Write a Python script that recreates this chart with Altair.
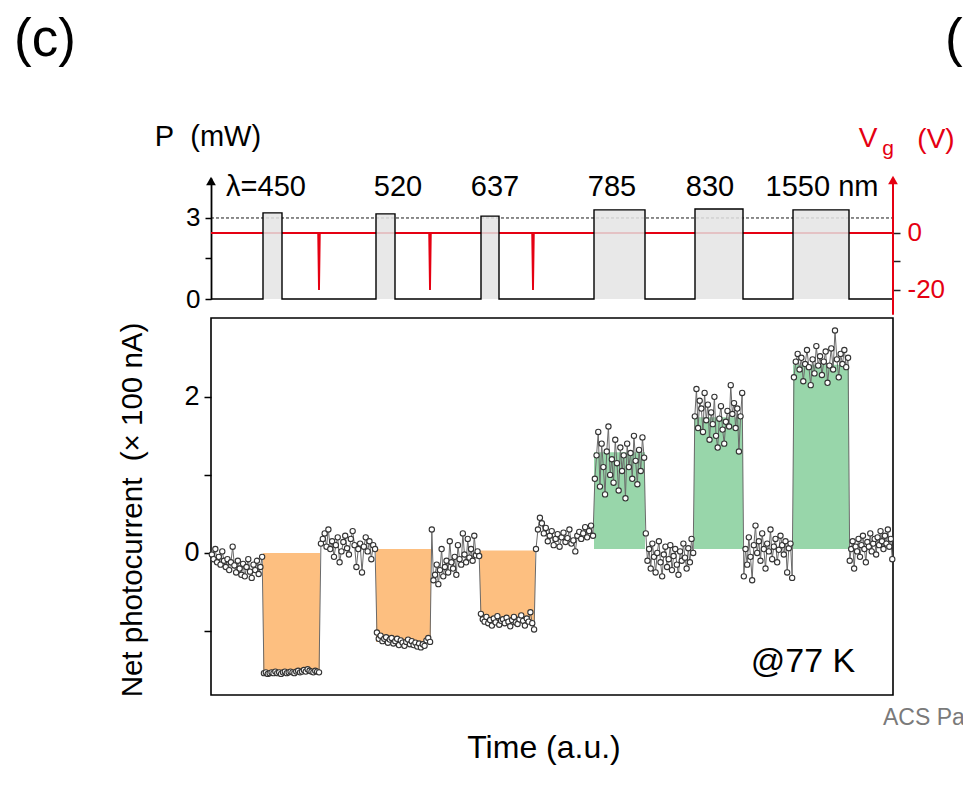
import altair as alt
import pandas as pd

FONT = "Liberation Sans"
RED = "#e50012"
ORANGE = "#fdbf80"
GREEN = "#98d6aa"
T_END = 682
NB = "\u00a0"

# ---------------- top panel: incident light power and gate pulses ----------------
pulse_start = [52, 165, 270, 383, 484, 582]
pulse_end = [71, 184, 288, 434, 532, 638]
pulse_power = [3.19, 3.15, 3.07, 3.30, 3.33, 3.30]          # mW
wl_labels = ["λ=450", "520", "637", "785", "830", "1550 nm"]
wl_label_t = [55, 187, 284, 401, 499, 611]
gate_spike_t = [108, 219, 322]
gate_spike_v = [-20, -20, -20]                                # V
P_DOMAIN = [0, 4.48]
VG_DOMAIN = [-23.2, 19.3]

# ---------------- bottom panel: net photocurrent (x100 nA) ----------------
seg_edges = [0, 52, 109, 165, 220, 269, 324, 383, 434, 483, 532, 582, 638, 682]
off0 = [-0.02, -0.08, 0.05, -0.12, -0.05, -0.15, 0.02, -0.10, -0.18, -0.08, -0.22, -0.12, 0.08, -0.16, -0.25,
        -0.10, -0.20, -0.28, -0.14, -0.30, -0.18, -0.08, -0.24, -0.32, -0.15, -0.22, -0.10, -0.27, -0.18, -0.05]
on450 = [-1.54, -1.53, -1.55, -1.54, -1.53, -1.54, -1.52, -1.54, -1.53, -1.55, -1.53, -1.52, -1.54, -1.53, -1.52,
         -1.53, -1.54, -1.52, -1.51, -1.53, -1.52, -1.50, -1.52, -1.49, -1.51, -1.52, -1.53, -1.51, -1.52, -1.53]
off1 = [0.12, 0.18, 0.25, 0.08, 0.30, 0.05, 0.15, -0.05, 0.10, 0.20, -0.12, 0.02, 0.14, 0.22, 0.06,
        -0.02, 0.18, 0.28, 0.10, -0.18, 0.05, 0.12, -0.25, 0.08, 0.20, 0.02, 0.15, -0.08, 0.10, 0.05]
on520 = [-1.02, -1.10, -1.06, -1.13, -1.10, -1.08, -1.15, -1.11, -1.09, -1.16, -1.13, -1.10, -1.18, -1.12, -1.15,
         -1.19, -1.14, -1.11, -1.17, -1.13, -1.18, -1.15, -1.20, -1.16, -1.21, -1.17, -1.19, -1.12, -1.09, -1.14]
off2 = [0.30, -0.35, -0.28, -0.15, -0.40, -0.22, 0.05, -0.30, -0.18, -0.10, -0.25, 0.15, -0.12, -0.20, -0.05,
        -0.28, 0.10, -0.08, -0.15, 0.25, -0.02, -0.12, 0.18, -0.06, 0.05, -0.10, 0.22, -0.03, 0.02, -0.04]
on637 = [-0.78, -0.85, -0.88, -0.82, -0.90, -0.86, -0.93, -0.84, -0.89, -0.81, -0.92, -0.87, -0.85, -0.90, -0.83,
         -0.88, -0.94, -0.86, -0.82, -0.89, -0.91, -0.85, -0.80, -0.87, -0.93, -0.84, -0.88, -0.76, -0.90, -0.98]
off3 = [0.05, 0.30, 0.45, 0.38, 0.25, 0.32, 0.15, 0.22, 0.28, 0.10, 0.18, 0.24, 0.08, 0.20, 0.26,
        0.14, 0.19, 0.30, 0.12, 0.16, 0.02, 0.22, 0.27, 0.18, 0.25, 0.33, 0.20, 0.28, 0.35, 0.22]
on785 = [0.95, 1.25, 1.55, 0.85, 1.40, 1.10, 0.75, 1.30, 1.62, 1.00, 1.20, 0.90, 1.45, 1.15, 0.80,
         1.35, 1.05, 1.25, 0.70, 1.40, 1.10, 1.28, 0.95, 1.50, 1.18, 0.88, 1.32, 1.05, 1.48, 1.22]
off4 = [0.25, -0.10, 0.05, -0.20, 0.12, -0.05, -0.25, 0.00, 0.15, -0.12, -0.30, -0.02, 0.08, -0.18, -0.08,
        0.10, -0.22, -0.04, 0.05, -0.15, -0.28, 0.02, -0.10, 0.12, -0.06, -0.20, 0.06, -0.12, 0.18, 0.00]
on830 = [1.75, 2.10, 1.60, 1.95, 1.85, 1.55, 2.05, 1.70, 1.90, 1.45, 1.80, 1.65, 2.00, 1.50, 1.35,
         1.72, 1.88, 1.58, 1.40, 1.68, 1.82, 1.62, 2.15, 1.78, 1.92, 1.60, 1.85, 1.30, 1.75, 2.05]
off5 = [-0.30, 0.05, -0.15, 0.20, -0.05, -0.35, 0.10, 0.35, 0.00, 0.15, -0.10, 0.25, 0.05, -0.20, 0.12,
        0.02, 0.30, -0.08, 0.08, 0.18, -0.12, 0.04, 0.22, 0.10, -0.02, 0.15, -0.25, 0.06, 0.12, -0.32]
on1550 = [2.25, 2.45, 2.55, 2.35, 2.50, 2.20, 2.42, 2.60, 2.38, 2.15, 2.48, 2.30, 2.65, 2.40, 2.52,
          2.28, 2.45, 2.58, 2.18, 2.40, 2.62, 2.35, 2.85, 2.48, 2.25, 2.55, 2.42, 2.60, 2.38, 2.50]
off6 = [-0.10, 0.05, 0.15, -0.20, 0.08, 0.02, 0.18, -0.05, 0.10, 0.22, 0.05, -0.12, 0.14, 0.08, 0.25,
        0.02, 0.12, 0.18, -0.02, 0.20, 0.10, 0.28, 0.15, 0.05, 0.22, 0.12, 0.30, 0.08, 0.18, -0.08]
segments = [off0, on450, off1, on520, off2, on637, off3, on785, off4, on830, off5, on1550, off6]

bar_start = [52, 165, 269, 383, 483, 582]
bar_end = [109, 220, 324, 434, 532, 638]
bar_base = [0.0, 0.05, 0.03, 0.05, 0.05, 0.05]
bar_level = [-1.53, -1.14, -0.86, 1.29, 1.74, 2.41]
bar_kind = ["visible", "visible", "visible", "infrared", "infrared", "infrared"]
I_DOMAIN = [-1.82, 3.01]

# ---------------- tables ----------------
power_rows = [{"i": 0, "t": 0, "p": 0}]
for s, e, h in zip(pulse_start, pulse_end, pulse_power):
    for t, p in [(s, 0), (s, h), (e, h), (e, 0)]:
        power_rows.append({"i": len(power_rows), "t": t, "p": p})
power_rows.append({"i": len(power_rows), "t": T_END, "p": 0})
power_df = pd.DataFrame(power_rows)

gate_rows = [{"i": 0, "t": 0, "vg": 0}]
for s, v in zip(gate_spike_t, gate_spike_v):
    for t, g in [(s - 0.8, 0), (s, v), (s + 0.8, 0)]:
        gate_rows.append({"i": len(gate_rows), "t": t, "vg": g})
gate_rows.append({"i": len(gate_rows), "t": T_END, "vg": 0})
gate_df = pd.DataFrame(gate_rows)

pulse_df = pd.DataFrame({"t": pulse_start, "t2": pulse_end, "p": [0] * 6, "p2": pulse_power})
label_df = pd.DataFrame({"t": wl_label_t, "p": [4.15] * 6, "txt": wl_labels})

cur_rows = []
for k, vals in enumerate(segments):
    a, b = seg_edges[k], seg_edges[k + 1]
    n = len(vals)
    for j, v in enumerate(vals):
        cur_rows.append({"t": a + (j + 0.5) * (b - a) / n, "v": v})
cur_df = pd.DataFrame(cur_rows)
bar_df = pd.DataFrame({"t": bar_start, "t2": bar_end, "v": bar_base, "v2": bar_level, "kind": bar_kind})

# ---------------- encodings ----------------
xs = alt.Scale(domain=[0, T_END], nice=False, zero=False)
ps = alt.Scale(domain=P_DOMAIN, nice=False, zero=False)
gs = alt.Scale(domain=VG_DOMAIN, nice=False, zero=False)
cs = alt.Scale(domain=I_DOMAIN, nice=False, zero=False)
X = alt.X("t:Q", scale=xs, axis=None)

left_axis = alt.Axis(orient="left", values=[0, 1.5, 3], labelExpr="datum.value == 1.5 ? '' : datum.label",
                     tickSize=6, tickWidth=1.5, tickColor="black", domainColor="black", domainWidth=1.8,
                     labelFontSize=26, labelColor="black", labelPadding=5, grid=False, title="",
                     labelFlush=False, labelOverlap=False, labelFont=FONT)
right_axis = alt.Axis(orient="right", values=[0, -10, -20],
                      labelExpr="datum.value == -10 ? '' : (datum.value == -20 ? '-20' : '0')",
                      tickSize=7, tickWidth=1.5, tickColor="#222222", domain=False,
                      labelFontSize=26, labelColor=RED, labelPadding=7, grid=False, title="",
                      labelFlush=False, labelOverlap=False, labelFont=FONT)


def txt(df, **kw):
    return alt.Chart(df).mark_text(font=FONT, **kw)


dashed = alt.Chart(pd.DataFrame({"t": [0], "t2": [T_END], "p": [3]})).mark_rule(
    strokeDash=[3, 2], color="black", strokeWidth=0.9).encode(
    x=X, x2="t2:Q", y=alt.Y("p:Q", scale=ps, axis=None))
gate_line = alt.Chart(gate_df).mark_line(color=RED, strokeWidth=1.9).encode(
    x=X, y=alt.Y("vg:Q", scale=gs, axis=right_axis), order="i:Q")
boxes = alt.Chart(pulse_df).mark_rect(color="#e4e4e4", opacity=0.85).encode(
    x=X, x2="t2:Q", y=alt.Y("p:Q", scale=ps, axis=None), y2="p2:Q")
power_line = alt.Chart(power_df).mark_line(color="black", strokeWidth=1.4).encode(
    x=X, y=alt.Y("p:Q", scale=ps, axis=left_axis), order="i:Q")
labels = txt(label_df, fontSize=29, baseline="middle", align="center").encode(
    x=X, y=alt.Y("p:Q", scale=ps, axis=None), text="txt:N")
left_arrow = alt.Chart(pd.DataFrame({"t": [0], "p": [4.37]})).mark_point(
    shape="triangle-up", filled=True, color="black", size=95, opacity=1).encode(
    x=X, y=alt.Y("p:Q", scale=ps, axis=None))
red_axis = alt.Chart(pd.DataFrame({"t": [T_END], "vg": [-28.7], "vg2": [18.0]})).mark_rule(
    color=RED, strokeWidth=2).encode(x=X, y=alt.Y("vg:Q", scale=gs, axis=None), y2="vg2:Q")
red_arrow = alt.Chart(pd.DataFrame({"t": [T_END], "vg": [18.6]})).mark_point(
    shape="triangle-up", filled=True, color=RED, size=95, opacity=1).encode(
    x=X, y=alt.Y("vg:Q", scale=gs, axis=None))
p_title = txt(pd.DataFrame({"t": [-3], "p": [6.0], "s": ["P" + NB + NB + "(mW)"]}), fontSize=29,
              align="center", baseline="middle").encode(x=X, y=alt.Y("p:Q", scale=ps, axis=None), text="s:N")
vg_title = txt(pd.DataFrame({"t": [657, 725], "p": [5.93, 5.89], "s": ["V", "(V)"]}), fontSize=28,
               align="center", baseline="middle", color=RED).encode(
    x=X, y=alt.Y("p:Q", scale=ps, axis=None), text="s:N")
vg_sub = txt(pd.DataFrame({"t": [677], "p": [5.33], "s": ["g"]}), fontSize=21,
             align="center", baseline="alphabetic", color=RED).encode(
    x=X, y=alt.Y("p:Q", scale=ps, axis=None), text="s:N")
panel_tags = txt(pd.DataFrame({"t": [-197, 734], "p": [9.59, 9.59], "s": ["(c)", "(d)"]}),
                 fontSize=53, baseline="middle", align="left").encode(
    x=X, y=alt.Y("p:Q", scale=ps, axis=None), text="s:N")

top = alt.layer(dashed, gate_line, boxes, power_line, labels, left_arrow, red_axis, red_arrow,
                p_title, vg_title, vg_sub, panel_tags).resolve_scale(y="independent").properties(
    width=T_END, height=121, view=alt.ViewBackground(strokeOpacity=0))

bottom_axis = alt.Axis(orient="left", values=[-1, 0, 1, 2],
                       labelExpr="datum.value == 0 || datum.value == 2 ? datum.label : ''",
                       tickSize=7, tickWidth=1.5, tickColor="black", domain=False, grid=False,
                       labelFontSize=27, labelColor="black", labelPadding=5, title="",
                       labelFlush=False, labelOverlap=False, labelFont=FONT)
Y = alt.Y("v:Q", scale=cs, axis=bottom_axis)

bars = alt.Chart(bar_df).mark_rect().encode(
    x=X, x2="t2:Q", y=Y, y2="v2:Q",
    color=alt.Color("kind:N", scale=alt.Scale(domain=["visible", "infrared"], range=[ORANGE, GREEN]), legend=None))
trace = alt.Chart(cur_df).mark_line(color="#6a6a6a", strokeWidth=1).encode(x=X, y=Y)
dots = alt.Chart(cur_df).mark_point(shape="circle", filled=True, fill="white", stroke="#333333",
                                    strokeWidth=1.1, size=28, opacity=1).encode(x=X, y=Y)
temp = txt(pd.DataFrame({"t": [592], "v": [-1.40], "s": ["@77 K"]}), fontSize=34,
           align="center", baseline="middle").encode(x=X, y=Y, text="s:N")
ytitle = txt(pd.DataFrame({"t": [-78], "v": [0.55], "s": ["Net photocurrent" + NB + NB + "(× 100 nA)"]}),
             fontSize=29.5, align="center", baseline="middle", angle=270).encode(x=X, y=Y, text="s:N")
xtitle = txt(pd.DataFrame({"t": [333], "v": [-2.50], "s": ["Time (a.u.)"]}), fontSize=32,
             align="center", baseline="middle").encode(x=X, y=Y, text="s:N")
credit = txt(pd.DataFrame({"t": [672], "v": [-2.12], "s": ["ACS Paragon Plus Environment"]}), fontSize=23,
             align="left", baseline="middle", color="#7a7a7a").encode(x=X, y=Y, text="s:N")

bottom = alt.layer(bars, trace, dots, temp, ytitle, xtitle, credit).properties(
    width=T_END, height=377, view=alt.ViewBackground(stroke="black", strokeWidth=1.6))

chart = alt.vconcat(top, bottom, spacing=19, bounds="flush").properties(
    autosize=alt.AutoSizeParams(type="none"),
    padding={"left": 211, "top": 178, "right": 70, "bottom": 614},
    background="white",
).configure(font=FONT)

chart.save("out.html", embed_options={"renderer": "svg", "actions": False})
